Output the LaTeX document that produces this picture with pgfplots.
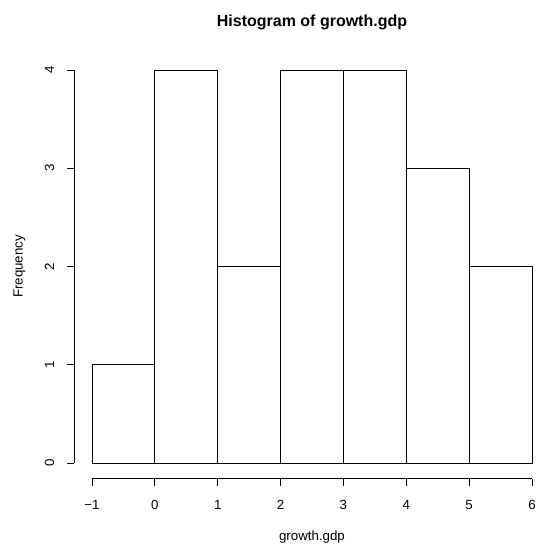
\documentclass[border=0pt]{standalone}
\usepackage{pgfplots}
\pgfplotsset{compat=1.18}
\usepackage{fontspec}
\setmainfont{Liberation Sans}
\begin{document}
\begin{tikzpicture}[x=1pt,y=1pt]
\begin{axis}[
  at={(74.4pt,65.3pt)}, anchor=south west,
  scale only axis, width=475.2pt, height=424.4pt,
  xmin=-1.28, xmax=6.28, ymin=-0.16, ymax=4.16,
  clip=false,
  axis line style={draw=none},
  tick pos=left, tick align=outside,
  major tick length=7.2pt,
  tick style={black, line width=0.9pt},
  xtick={-1,0,1,2,3,4,5,6}, xticklabels={−1,0,1,2,3,4,5,6},
  ytick={0,1,2,3,4}, yticklabels={0,1,2,3,4},
  ticklabel style={font=\fontsize{13.3}{16}\selectfont},
  xticklabel style={anchor=north, inner sep=0pt, outer sep=0pt, outer ysep=14pt},
  yticklabel style={rotate=90, anchor=south, inner sep=0pt, outer sep=0pt, outer ysep=13pt},
]
\addplot[ybar interval, draw=black, fill=white, line width=0.9pt]
  coordinates {(-1,1) (0,4) (1,2) (2,4) (3,4) (4,3) (5,2) (6,2)};
\draw[line width=0.9pt] (axis cs:-1,-0.16) -- (axis cs:6,-0.16);
\draw[line width=0.9pt] (axis cs:-1.28,0) -- (axis cs:-1.28,4);
\end{axis}
\node[font=\bfseries\fontsize{16}{19}\selectfont, anchor=base] at (312,517) {Histogram of growth.gdp};
\node[font=\fontsize{13.3}{16}\selectfont, anchor=base, inner sep=0pt] at (312,4) {growth.gdp};
\node[font=\fontsize{13.3}{16}\selectfont, anchor=base, inner sep=0pt, rotate=90] at (22.5,277.5) {Frequency};
\pgfresetboundingbox
\useasboundingbox (0,0) rectangle (536,544);
\end{tikzpicture}
\end{document}
